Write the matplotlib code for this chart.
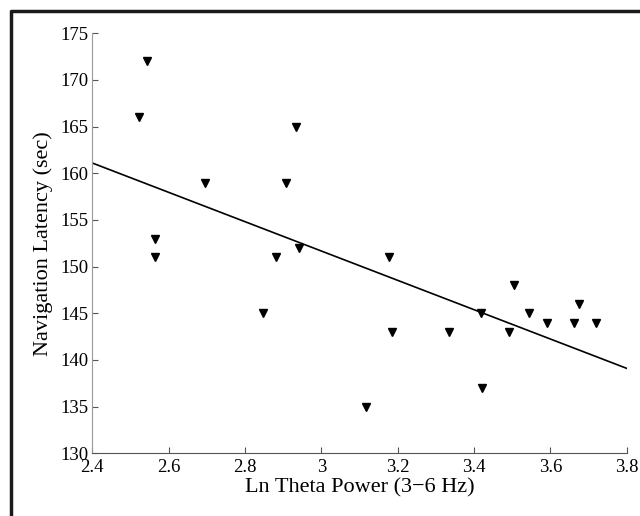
import matplotlib.pyplot as plt
from matplotlib.lines import Line2D
from matplotlib.ticker import FormatStrFormatter

# data
theta_power = [2.523, 2.542, 2.565, 2.565, 2.696, 2.848, 2.882, 2.907, 2.933, 2.941,
               3.116, 3.176, 3.185, 3.335, 3.418, 3.421, 3.491, 3.505, 3.545, 3.591,
               3.661, 3.675, 3.719]
latency = [166, 172, 153, 151, 159, 145, 151, 159, 165, 152,
           135, 151, 143, 143, 145, 137, 143, 148, 145, 144,
           144, 146, 144]
fit_x = [2.4, 3.8]
fit_y = [161.1, 139.1]

x_ticks = [2.4, 2.6, 2.8, 3.0, 3.2, 3.4, 3.6, 3.8]
y_ticks = [130, 135, 140, 145, 150, 155, 160, 165, 170, 175]

plt.rcParams['font.family'] = 'Liberation Serif'

fig = plt.figure(figsize=(6.4, 5.16), dpi=100)
ax = fig.add_axes([0.1443, 0.1215, 0.835, 0.814])

ax.plot(fit_x, fit_y, color='black', linewidth=1.2)
ax.plot(theta_power, latency, linestyle='none', marker='v', markersize=5.2,
        color='black')

ax.set_xlim(2.4, 3.8)
ax.set_ylim(130, 175)
ax.set_xticks(x_ticks)
ax.set_yticks(y_ticks)
ax.xaxis.set_major_formatter(FormatStrFormatter('%g'))
ax.tick_params(direction='in', length=4, labelsize=13.5, color='#555555')
ax.tick_params(axis='x', pad=4)
ax.tick_params(axis='y', pad=3)

for side in ['top', 'right']:
    ax.spines[side].set_visible(False)
ax.spines['left'].set_color('#999999')
ax.spines['bottom'].set_color('#555555')

ax.set_xlabel('Ln Theta Power (3\u22126 Hz)', fontsize=16, labelpad=2)
ax.set_ylabel('Navigation Latency (sec)', fontsize=16, labelpad=5)

# outer frame (only left and top edges visible)
fig.add_artist(Line2D([11 / 640, 11 / 640, 1.0], [0.0, 1 - 11 / 516, 1 - 11 / 516],
                      transform=fig.transFigure, color='#1a1a1a', linewidth=2.5))

fig.savefig('out.png', dpi=100)
